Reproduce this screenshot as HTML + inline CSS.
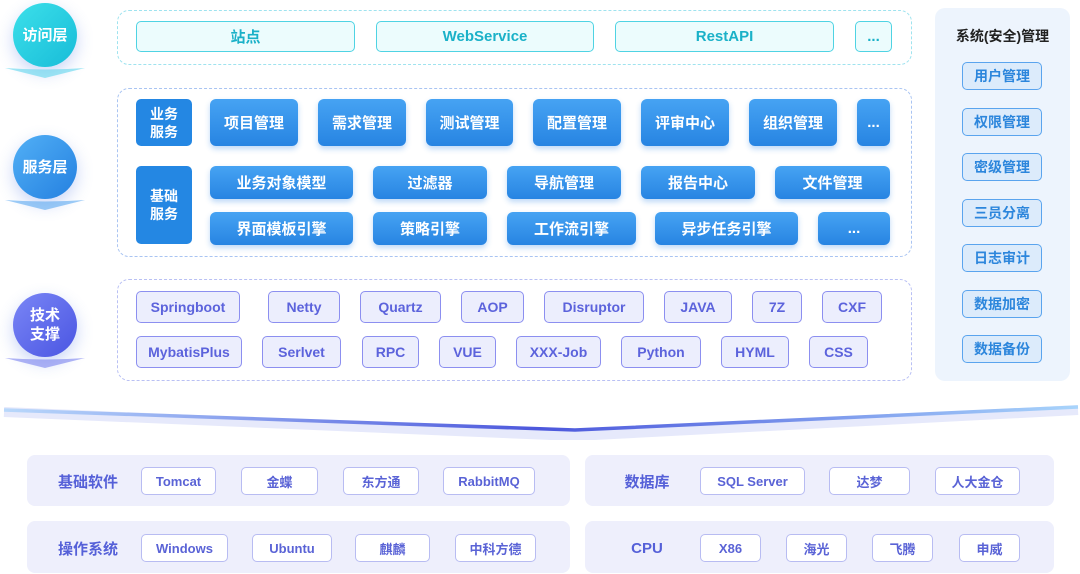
<!DOCTYPE html>
<html><head><meta charset="utf-8"><style>
*{margin:0;padding:0;box-sizing:border-box}
body{width:1080px;height:574px;background:#fff;position:relative;overflow:hidden;font-family:"Liberation Sans","Noto Sans CJK SC",sans-serif;font-weight:bold}
div{position:absolute}
.c{display:flex;align-items:center;justify-content:center;text-align:center}
.circ{width:64px;height:64px;border-radius:50%;color:#fff;font-size:15px;line-height:19px;box-shadow:0 6px 16px rgba(80,120,230,.3)}
.chev{width:80px;height:12px;left:5px}
.dash{border:1.5px dashed #a9c4f2;border-radius:12px}
.ac{background:#ecfcfd;border:1.5px solid #4fd3e3;border-radius:5px;color:#1ab1c8;font-size:15px}
.sv{background:linear-gradient(#46a3f3,#2784e2);border-radius:6px;color:#fff;font-size:15px;box-shadow:0 3px 6px rgba(40,130,230,.3)}
.sl{background:#2487e3;border-radius:5px;color:#fff;font-size:14px;line-height:18px}
.tc{background:#eceefd;border:1.5px solid #8c8ff0;border-radius:5px;color:#5c63dc;font-size:14px}
.rp{background:#dcebfb;border:1.5px solid #5aa4ee;border-radius:5px;color:#2c86dc;font-size:14px;width:80px;height:28px;left:962px}
.bp{background:#eeeffc;border-radius:8px}
.bl{color:#5560d8;font-size:15px}
.bi{background:#fff;border:1.5px solid #b8bcf2;border-radius:5px;color:#5a63d6;font-size:13px;height:28px}
</style></head><body>
<div class="c circ" style="left:13px;top:3px;background:linear-gradient(135deg,#3ce0ea,#18bcd8)">访问层</div>
<div class="chev" style="top:66px"><svg width="80" height="12"><path d="M0 1 Q40 4 80 1 L40 11Z" fill="#5fd6ec" opacity=".6"/></svg></div>
<div class="c circ" style="left:13px;top:135px;background:linear-gradient(135deg,#52b0f6,#2480e0)">服务层</div>
<div class="chev" style="top:198px"><svg width="80" height="12"><path d="M0 1 Q40 4 80 1 L40 11Z" fill="#5aa8f0" opacity=".6"/></svg></div>
<div class="c circ" style="left:13px;top:293px;background:linear-gradient(135deg,#7a86f6,#4a55e2)">技术<br>支撑</div>
<div class="chev" style="top:356px"><svg width="80" height="12"><path d="M0 1 Q40 4 80 1 L40 11Z" fill="#7a82ee" opacity=".6"/></svg></div>

<div class="dash" style="left:117px;top:10px;width:795px;height:55px;border-color:#9fe3ef"></div>
<div class="c ac" style="left:136px;top:21px;width:219px;height:31px">站点</div>
<div class="c ac" style="left:376px;top:21px;width:218px;height:31px">WebService</div>
<div class="c ac" style="left:615px;top:21px;width:219px;height:31px">RestAPI</div>
<div class="c ac" style="left:855px;top:21px;width:37px;height:31px">...</div>

<div class="dash" style="left:117px;top:88px;width:795px;height:169px"></div>
<div class="c sl" style="left:136px;top:99px;width:56px;height:47px">业务<br>服务</div>
<div class="c sl" style="left:136px;top:166px;width:56px;height:78px">基础<br>服务</div>
<div class="c sv" style="left:210px;top:99px;width:88px;height:47px">项目管理</div>
<div class="c sv" style="left:318px;top:99px;width:88px;height:47px">需求管理</div>
<div class="c sv" style="left:426px;top:99px;width:87px;height:47px">测试管理</div>
<div class="c sv" style="left:533px;top:99px;width:88px;height:47px">配置管理</div>
<div class="c sv" style="left:641px;top:99px;width:88px;height:47px">评审中心</div>
<div class="c sv" style="left:749px;top:99px;width:88px;height:47px">组织管理</div>
<div class="c sv" style="left:857px;top:99px;width:33px;height:47px">...</div>
<div class="c sv" style="left:210px;top:166px;width:143px;height:33px">业务对象模型</div>
<div class="c sv" style="left:373px;top:166px;width:114px;height:33px">过滤器</div>
<div class="c sv" style="left:507px;top:166px;width:114px;height:33px">导航管理</div>
<div class="c sv" style="left:641px;top:166px;width:114px;height:33px">报告中心</div>
<div class="c sv" style="left:775px;top:166px;width:115px;height:33px">文件管理</div>
<div class="c sv" style="left:210px;top:212px;width:143px;height:33px">界面模板引擎</div>
<div class="c sv" style="left:373px;top:212px;width:114px;height:33px">策略引擎</div>
<div class="c sv" style="left:507px;top:212px;width:129px;height:33px">工作流引擎</div>
<div class="c sv" style="left:655px;top:212px;width:143px;height:33px">异步任务引擎</div>
<div class="c sv" style="left:818px;top:212px;width:72px;height:33px">...</div>

<div class="dash" style="left:117px;top:279px;width:795px;height:102px;border-color:#b9c0f4"></div>
<div class="c tc" style="left:136px;top:291px;width:104px;height:32px">Springboot</div>
<div class="c tc" style="left:268px;top:291px;width:72px;height:32px">Netty</div>
<div class="c tc" style="left:360px;top:291px;width:81px;height:32px">Quartz</div>
<div class="c tc" style="left:461px;top:291px;width:63px;height:32px">AOP</div>
<div class="c tc" style="left:544px;top:291px;width:100px;height:32px">Disruptor</div>
<div class="c tc" style="left:664px;top:291px;width:68px;height:32px">JAVA</div>
<div class="c tc" style="left:752px;top:291px;width:50px;height:32px">7Z</div>
<div class="c tc" style="left:822px;top:291px;width:60px;height:32px">CXF</div>
<div class="c tc" style="left:136px;top:336px;width:106px;height:32px">MybatisPlus</div>
<div class="c tc" style="left:262px;top:336px;width:79px;height:32px">Serlvet</div>
<div class="c tc" style="left:362px;top:336px;width:57px;height:32px">RPC</div>
<div class="c tc" style="left:439px;top:336px;width:57px;height:32px">VUE</div>
<div class="c tc" style="left:516px;top:336px;width:85px;height:32px">XXX-Job</div>
<div class="c tc" style="left:621px;top:336px;width:80px;height:32px">Python</div>
<div class="c tc" style="left:721px;top:336px;width:68px;height:32px">HYML</div>
<div class="c tc" style="left:809px;top:336px;width:59px;height:32px">CSS</div>

<div style="left:935px;top:8px;width:135px;height:373px;background:#edf4fd;border-radius:10px"></div>
<div class="c" style="left:935px;top:26px;width:135px;height:20px;font-size:14px;color:#222">系统(安全)管理</div>
<div class="c rp" style="top:62px">用户管理</div>
<div class="c rp" style="top:108px">权限管理</div>
<div class="c rp" style="top:153px">密级管理</div>
<div class="c rp" style="top:199px">三员分离</div>
<div class="c rp" style="top:244px">日志审计</div>
<div class="c rp" style="top:290px">数据加密</div>
<div class="c rp" style="top:335px">数据备份</div>

<div style="left:0;top:398px;width:1080px;height:42px"><svg width="1080" height="42">
<defs><linearGradient id="g" x1="0" x2="1"><stop offset="0" stop-color="#b9d8fb"/><stop offset=".5" stop-color="#4c57dc"/><stop offset="1" stop-color="#a8d4fb"/></linearGradient></defs>
<path d="M4 14 L575 38 L1078 12" stroke="#e6e9fb" stroke-width="10" fill="none"/>
<path d="M4 12 L575 32 L1078 9" stroke="url(#g)" stroke-width="3.5" fill="none"/>
</svg></div>

<div class="bp" style="left:27px;top:455px;width:543px;height:51px"></div>
<div class="bp" style="left:585px;top:455px;width:469px;height:51px"></div>
<div class="bp" style="left:27px;top:521px;width:543px;height:52px"></div>
<div class="bp" style="left:585px;top:521px;width:469px;height:52px"></div>
<div class="c bl" style="left:50px;top:470px;width:76px;height:22px">基础软件</div>
<div class="c bl" style="left:50px;top:537px;width:76px;height:22px">操作系统</div>
<div class="c bl" style="left:612px;top:470px;width:70px;height:22px">数据库</div>
<div class="c bl" style="left:612px;top:537px;width:70px;height:22px">CPU</div>
<div class="c bi" style="left:141px;top:467px;width:75px">Tomcat</div>
<div class="c bi" style="left:241px;top:467px;width:77px">金蝶</div>
<div class="c bi" style="left:343px;top:467px;width:76px">东方通</div>
<div class="c bi" style="left:443px;top:467px;width:92px">RabbitMQ</div>
<div class="c bi" style="left:141px;top:534px;width:87px">Windows</div>
<div class="c bi" style="left:252px;top:534px;width:80px">Ubuntu</div>
<div class="c bi" style="left:355px;top:534px;width:75px">麒麟</div>
<div class="c bi" style="left:455px;top:534px;width:81px">中科方德</div>
<div class="c bi" style="left:700px;top:467px;width:105px">SQL Server</div>
<div class="c bi" style="left:829px;top:467px;width:81px">达梦</div>
<div class="c bi" style="left:935px;top:467px;width:85px">人大金仓</div>
<div class="c bi" style="left:700px;top:534px;width:61px">X86</div>
<div class="c bi" style="left:786px;top:534px;width:61px">海光</div>
<div class="c bi" style="left:872px;top:534px;width:61px">飞腾</div>
<div class="c bi" style="left:959px;top:534px;width:61px">申威</div>
</body></html>
